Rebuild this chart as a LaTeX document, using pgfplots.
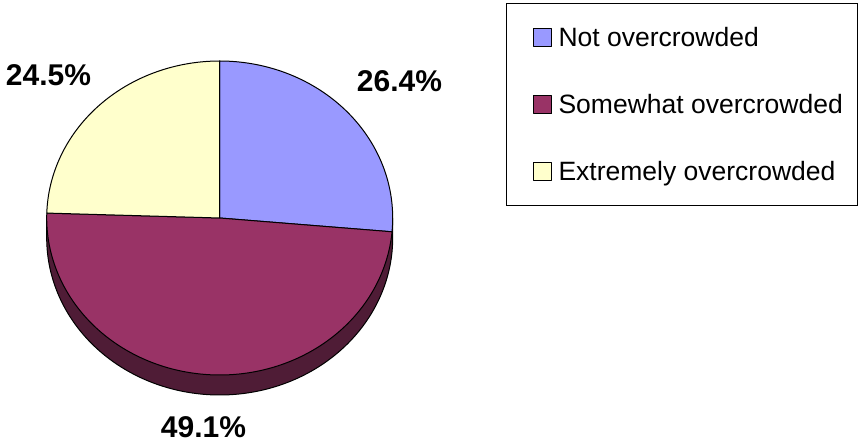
\documentclass[border=0pt]{standalone}
\usepackage{pgfplots}
\pgfplotsset{compat=1.18}
\usepackage{fontspec}
\setmainfont{Liberation Sans}
\definecolor{cblue}{HTML}{9999FF}
\definecolor{cmaroon}{HTML}{993366}
\definecolor{cyellow}{HTML}{FFFFCC}
\definecolor{cwall}{HTML}{4F1C36}
% shares in percent
\def\vA{26.4}% Not overcrowded
\def\vB{49.1}% Somewhat overcrowded
\def\vC{24.5}% Extremely overcrowded
\pgfmathsetmacro\aO{90}
\pgfmathsetmacro\aA{90-\vA*3.6}
\pgfmathsetmacro\aB{\aA-\vB*3.6}
\pgfmathsetmacro\aC{\aB-\vC*3.6}
\def\cx{219.7}\def\cy{226}\def\rx{173}\def\ry{157}\def\dep{20}
\pgfmathsetmacro\xR{\cx+\rx}
\pgfmathsetmacro\xL{\cx-\rx}
\begin{document}
\begin{tikzpicture}
\begin{axis}[at={(0,0)}, anchor=south west, scale only axis,
  width=859pt, height=444pt, xmin=0, xmax=859, ymin=0, ymax=444,
  hide axis, clip=false, legend cell align=left,
  legend image code/.code={\path[draw=none, fill=none] (0pt,0pt) rectangle (37pt,1pt); \draw[#1, draw=black, line width=1pt] (12pt,0pt) rectangle (30pt,18pt);},
  legend style={at={(0.5891,0.9932)}, anchor=north west, draw=black, line width=1pt,
    inner xsep=15pt, inner ysep=24pt, row sep=47.5pt,
    font=\fontsize{26.5}{30}\selectfont,
    nodes={inner sep=0pt, anchor=base west, text height=19pt, text depth=0pt}},
]
\path (axis cs:0,0) rectangle (axis cs:859,444);
\addplot[forget plot, fill=cwall, draw=black, line width=1pt, line join=round, domain=180:360, samples=150]
  ({\cx+\rx*cos(x)},{\cy-\dep+\ry*sin(x)}) -- (axis cs:\xR,\cy) -- (axis cs:\xL,\cy) -- cycle;
\addplot[fill=cblue, draw=black, line width=1pt, line join=round, domain=\aA:\aO, samples=100]
  ({\cx+\rx*cos(x)},{\cy+\ry*sin(x)}) -- (axis cs:\cx,\cy) -- cycle;
\addlegendentry{Not overcrowded}
\addplot[fill=cmaroon, draw=black, line width=1pt, line join=round, domain=\aB:\aA, samples=150]
  ({\cx+\rx*cos(x)},{\cy+\ry*sin(x)}) -- (axis cs:\cx,\cy) -- cycle;
\addlegendentry{Somewhat overcrowded}
\addplot[fill=cyellow, draw=black, line width=1pt, line join=round, domain=\aC:\aB, samples=100]
  ({\cx+\rx*cos(x)},{\cy+\ry*sin(x)}) -- (axis cs:\cx,\cy) -- cycle;
\addlegendentry{Extremely overcrowded}
\node[font=\fontsize{30}{36}\selectfont\bfseries, anchor=base] at (axis cs:399.5,352) {\vA\%};
\node[font=\fontsize{30}{36}\selectfont\bfseries, anchor=base] at (axis cs:48.5,358) {\vC\%};
\node[font=\fontsize{30}{36}\selectfont\bfseries, anchor=base] at (axis cs:203.5,6) {\vB\%};
\end{axis}
\end{tikzpicture}
\end{document}
